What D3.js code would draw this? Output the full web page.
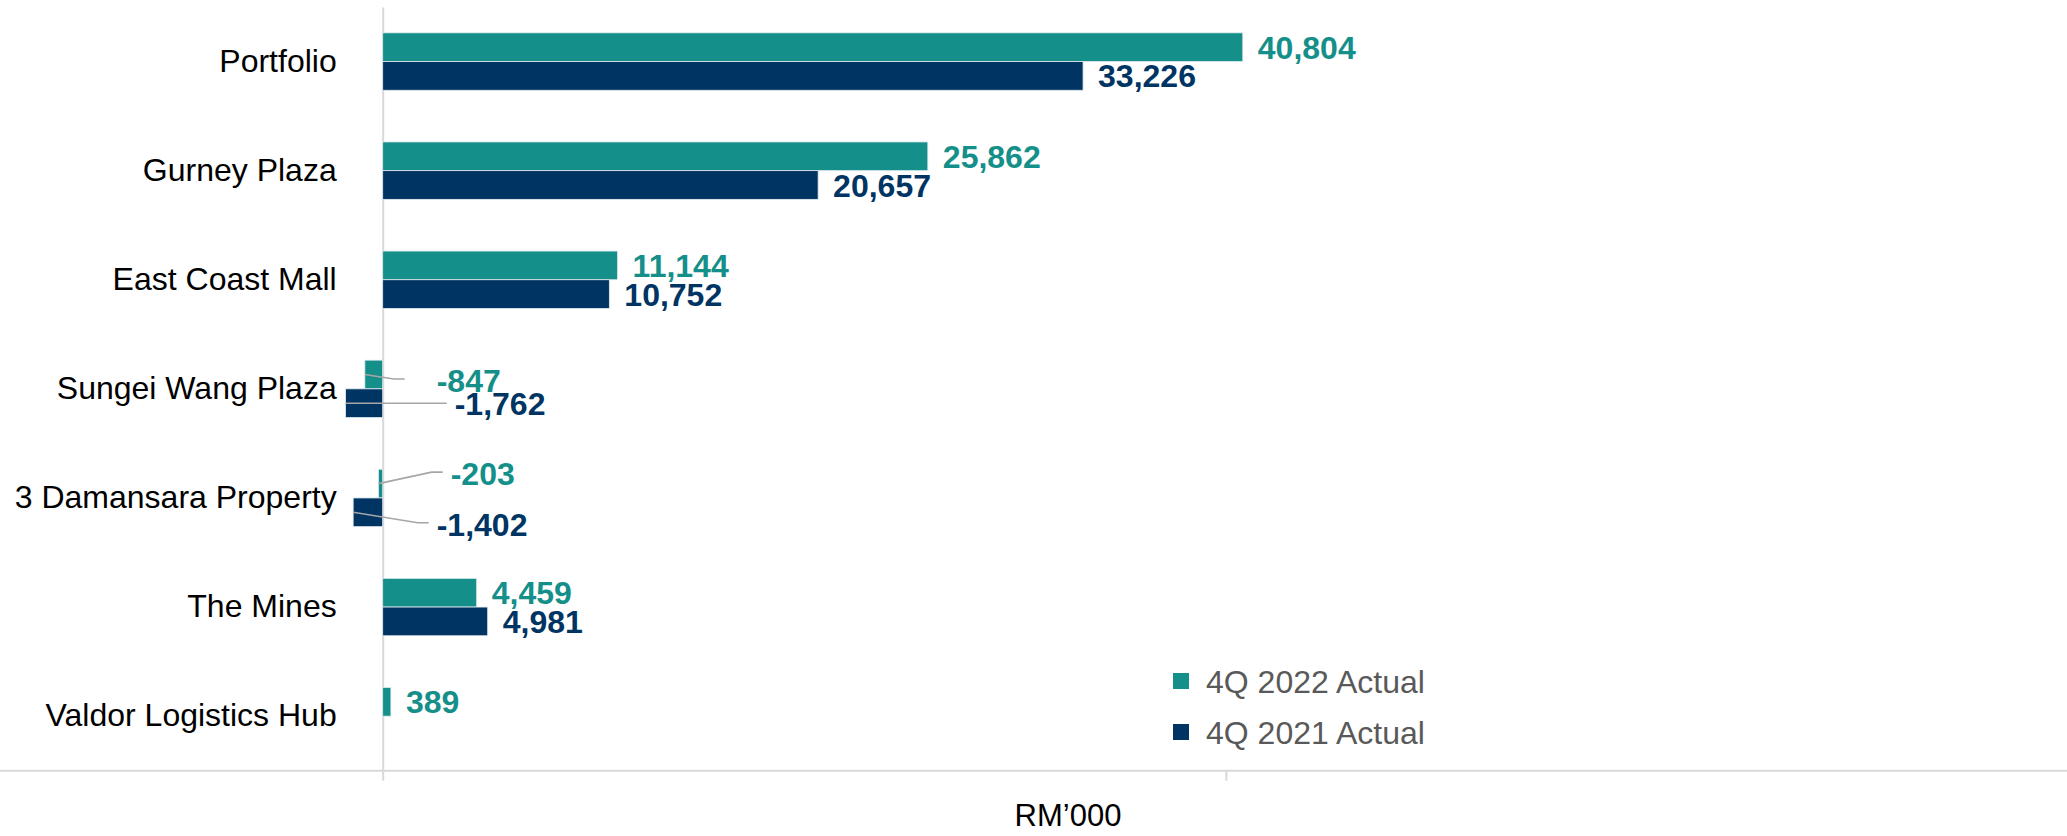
<!DOCTYPE html>
<html>
<head>
<meta charset="utf-8">
<script src="https://cdn.jsdelivr.net/npm/d3@7"></script>
<style>
  body { margin: 0; background: #fff; }
  svg { display: block; font-family: Arial, "Liberation Sans", sans-serif; }
</style>
</head>
<body>
<div class="chart_container"></div>
<script>
const categories = ["Portfolio", "Gurney Plaza", "East Coast Mall", "Sungei Wang Plaza",
  "3 Damansara Property", "The Mines", "Valdor Logistics Hub"];
const seriesNames = ["4Q 2022 Actual", "4Q 2021 Actual"];
const actual2022 = [40804, 25862, 11144, -847, -203, 4459, 389];
const actual2021 = [33226, 20657, 10752, -1762, -1402, 4981, null];
const xTicks = [0, 40000, 80000];
const axisTitle = "RM\u2019000";

const colors = { "4Q 2022 Actual": "#158F89", "4Q 2021 Actual": "#003463" };

// hand placed labels for the small negative bars (offsets in px)
// dx: label start from zero line, dy: label centre from bar centre, gap: line end to label
const nudges = {
  "Sungei Wang Plaza|4Q 2022 Actual": { dx: 54, dy: 6, gap: 32 },
  "Sungei Wang Plaza|4Q 2021 Actual": { dx: 72, dy: 0, gap: 8 },
  "3 Damansara Property|4Q 2022 Actual": { dx: 68, dy: -10, gap: 8 },
  "3 Damansara Property|4Q 2021 Actual": { dx: 54, dy: 12, gap: 8 },
};

const width = 2067, height = 836;
const plotTop = 7, plotBottom = 770.7;

const rows = [];
categories.forEach((c, i) => {
  rows.push({ cat: c, series: seriesNames[0], value: actual2022[i] });
  if (actual2021[i] !== null) rows.push({ cat: c, series: seriesNames[1], value: actual2021[i] });
});

const container = document.querySelector('div.chart_container');
container.innerHTML = `<svg id="svgCont" width=${width} height=${height}></svg>`;
const svg = d3.select(container).select('#svgCont');

const x = d3.scaleLinear().domain([0, 80000]).range([382.7, 2069]);
const y = d3.scaleBand().domain(categories).range([plotTop, plotBottom]);
const y1 = d3.scaleBand().domain(seriesNames).range([0, y.bandwidth()]).paddingOuter(0.9);

// x axis (ticks only, line across the whole width)
const xAxis = svg.append('g')
  .attr('transform', `translate(0,${plotBottom})`)
  .call(d3.axisBottom(x).tickValues(xTicks).tickSize(10).tickSizeOuter(0).tickFormat(''));
xAxis.select('.domain').attr('d', `M0,0H${width}`);
xAxis.selectAll('path, line').attr('stroke', '#d9d9d9').attr('stroke-width', 2);

// y axis at zero
const yAxis = svg.append('g')
  .attr('transform', `translate(${x(0)},0)`)
  .call(d3.axisLeft(y).tickSize(0).tickSizeOuter(0).tickPadding(46));
yAxis.select('.domain').attr('stroke', '#d9d9d9').attr('stroke-width', 2);
yAxis.selectAll('text')
  .attr('font-size', 32)
  .attr('fill', '#000')
  .attr('font-family', 'Arial, "Liberation Sans", sans-serif');

const barY = d => y(d.cat) + y1(d.series);
const barMid = d => barY(d) + y1.bandwidth() / 2;

svg.append('g').selectAll('rect')
  .data(rows).enter().append('rect')
  .attr('x', d => Math.min(x(0), x(d.value)))
  .attr('y', d => barY(d))
  .attr('width', d => Math.abs(x(d.value) - x(0)))
  .attr('height', y1.bandwidth())
  .attr('fill', d => colors[d.series])
  .attr('stroke', '#e3ecf0')
  .attr('stroke-width', 0.8);

const fmt = d3.format(',');
const labelPos = d => {
  const n = nudges[d.cat + '|' + d.series];
  if (n) return { x: x(0) + n.dx, y: barMid(d) + n.dy, n };
  return { x: x(d.value) + 15, y: barMid(d), n: null };
};

// leader lines
svg.append('g').selectAll('path')
  .data(rows.filter(d => nudges[d.cat + '|' + d.series])).enter().append('path')
  .attr('d', d => {
    const p = labelPos(d);
    const endX = p.x - p.n.gap;
    const ly = p.y - 1.5;
    const sy = barMid(d);
    if (Math.abs(ly - sy) < 3) return `M${x(d.value)},${sy}H${endX}`;
    return `M${x(d.value)},${sy}L${endX - 11},${ly}H${endX}`;
  })
  .attr('fill', 'none')
  .attr('stroke', '#a6a6a6')
  .attr('stroke-width', 1.6);

svg.append('g').selectAll('text')
  .data(rows).enter().append('text')
  .attr('x', d => labelPos(d).x)
  .attr('y', d => labelPos(d).y)
  .attr('dy', '0.36em')
  .attr('font-size', 32)
  .attr('font-weight', 'bold')
  .attr('fill', d => colors[d.series])
  .text(d => fmt(d.value).replace('\u2212', '-'));

// legend
const legend = svg.append('g').attr('transform', 'translate(1173,673)');
seriesNames.forEach((s, i) => {
  const g = legend.append('g').attr('transform', `translate(0,${i * 51})`);
  g.append('rect').attr('width', 16).attr('height', 16).attr('fill', colors[s]);
  g.append('text')
    .attr('x', 33).attr('y', 8).attr('dy', '0.36em')
    .attr('font-size', 32).attr('fill', '#595959')
    .text(s);
});

svg.append('text')
  .attr('x', 1068).attr('y', 826)
  .attr('text-anchor', 'middle')
  .attr('font-size', 31)
  .attr('fill', '#000')
  .text(axisTitle);
</script>
</body>
</html>
